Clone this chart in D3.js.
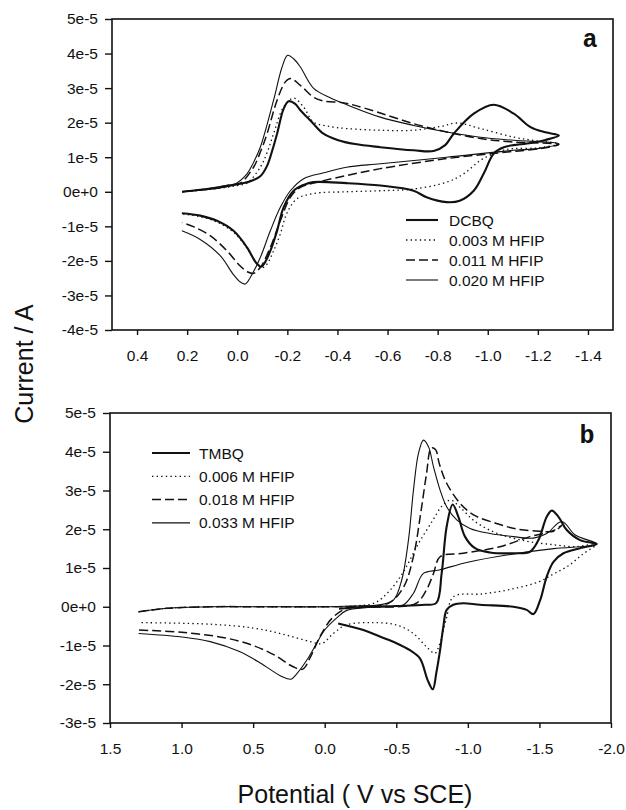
<!DOCTYPE html>
<html>
<head>
<meta charset="utf-8">
<script src="https://cdn.jsdelivr.net/npm/d3@7"></script>
<style>
  body { margin: 0; background: #fff; }
  svg { display: block; }
  text { font-family: "Liberation Sans", Arial, sans-serif; fill: #111; }
</style>
</head>
<body>
<div id="chart"></div>
<script>
// potentials in V, currents in units of 1e-5 A, points follow the scan direction

// panel a
const dcbq = [[0.22,0],[0.10,0.1],[0.015,0.2],[-0.05,0.3],[-0.092,0.45],[-0.119,0.75],[-0.14,1.2],[-0.159,1.68],[-0.185,2.40],[-0.205,2.62],[-0.23,2.55],[-0.252,2.36],[-0.28,2.15],[-0.304,1.97],[-0.344,1.68],[-0.40,1.5],[-0.47,1.38],[-0.571,1.29],[-0.704,1.20],[-0.784,1.18],[-0.83,1.35],[-0.864,1.68],[-0.944,2.26],[-1.024,2.52],[-1.104,2.26],[-1.171,1.87],[-1.23,1.72],[-1.284,1.63],
  [-1.23,1.50],[-1.172,1.41],[-1.064,1.29],[-1.024,1.11],[-0.984,0.53],[-0.944,0.03],[-0.888,-0.26],[-0.836,-0.30],[-0.756,-0.16],[-0.704,0.03],[-0.572,0.18],[-0.436,0.25],[-0.304,0.28],[-0.265,0.2],[-0.225,0.03],[-0.185,-0.45],[-0.159,-1.13],[-0.132,-1.71],[-0.11,-2.05],[-0.095,-2.17],[-0.075,-2.05],[-0.039,-1.61],[0.015,-1.13],[0.081,-0.84],[0.148,-0.69],[0.221,-0.62]];
const hfip003 = [[0.22,0],[0.1,0.08],[0.0,0.18],[-0.039,0.25],[-0.092,0.71],[-0.12,1.15],[-0.145,1.68],[-0.185,2.45],[-0.225,2.71],[-0.265,2.45],[-0.304,2.02],[-0.36,1.9],[-0.437,1.83],[-0.571,1.78],[-0.704,1.78],[-0.812,1.89],[-0.877,1.99],[-0.971,1.83],[-1.104,1.58],[-1.2,1.47],[-1.284,1.39],
  [-1.2,1.27],[-1.104,1.25],[-1.051,1.18],[-0.971,0.91],[-0.904,0.52],[-0.837,0.28],[-0.704,0.08],[-0.571,0.03],[-0.437,0.0],[-0.304,-0.05],[-0.237,-0.21],[-0.197,-0.64],[-0.172,-1.22],[-0.145,-1.71],[-0.119,-2.09],[-0.10,-2.2],[-0.08,-2.1],[-0.045,-1.7],[0.01,-1.2],[0.08,-0.88],[0.148,-0.72],[0.221,-0.64]];
const hfip011 = [[0.22,0],[0.1,0.1],[0.03,0.2],[-0.012,0.25],[-0.065,0.71],[-0.095,1.2],[-0.119,1.68],[-0.159,2.65],[-0.192,3.18],[-0.212,3.28],[-0.252,3.08],[-0.304,2.74],[-0.35,2.62],[-0.42,2.58],[-0.47,2.5],[-0.571,2.28],[-0.704,1.97],[-0.837,1.73],[-0.971,1.54],[-1.104,1.44],[-1.284,1.37],
  [-1.2,1.24],[-1.104,1.17],[-0.836,0.96],[-0.572,0.67],[-0.437,0.47],[-0.304,0.25],[-0.252,0.13],[-0.212,-0.16],[-0.172,-0.84],[-0.132,-1.61],[-0.092,-2.19],[-0.065,-2.36],[-0.045,-2.33],[-0.012,-2.15],[0.041,-1.71],[0.108,-1.27],[0.175,-1.01],[0.221,-0.89]];
const hfip020 = [[0.22,0],[0.1,0.08],[0.015,0.2],[-0.039,0.52],[-0.065,0.85],[-0.092,1.29],[-0.145,2.65],[-0.179,3.61],[-0.201,3.95],[-0.225,3.85],[-0.252,3.61],[-0.304,3.0],[-0.371,2.72],[-0.437,2.52],[-0.571,2.16],[-0.704,1.92],[-0.837,1.73],[-0.971,1.58],[-1.104,1.49],[-1.284,1.39],
  [-1.2,1.25],[-1.104,1.2],[-0.836,1.0],[-0.572,0.81],[-0.436,0.71],[-0.345,0.55],[-0.265,0.38],[-0.212,0.03],[-0.172,-0.45],[-0.132,-1.13],[-0.092,-1.90],[-0.052,-2.48],[-0.032,-2.67],[-0.01,-2.6],[0.015,-2.4],[0.068,-1.85],[0.148,-1.38],[0.221,-1.13]];

// panel b
const tmbq = [[-0.10,-0.05],[-0.3,0.0],[-0.5,0.02],[-0.7,0.05],[-0.78,0.1],[-0.817,0.86],[-0.852,2.07],[-0.894,2.64],[-0.934,2.32],[-0.98,1.81],[-1.05,1.51],[-1.155,1.40],[-1.318,1.38],[-1.434,1.42],[-1.493,1.72],[-1.551,2.32],[-1.586,2.48],[-1.633,2.32],[-1.691,1.98],[-1.784,1.72],[-1.9,1.62],
  [-1.784,1.51],[-1.668,1.38],[-1.598,1.16],[-1.551,0.78],[-1.505,0.17],[-1.458,-0.19],[-1.411,-0.08],[-1.318,0.0],[-1.085,0.05],[-0.968,0.09],[-0.898,0.05],[-0.852,-0.08],[-0.829,-0.51],[-0.806,-1.12],[-0.78,-1.7],[-0.755,-2.13],[-0.72,-1.9],[-0.665,-1.33],[-0.595,-1.12],[-0.501,-0.94],[-0.385,-0.77],[-0.27,-0.60],[-0.094,-0.43]];
const hfip006 = [[1.3,-0.13],[1.1,-0.04],[0.8,0],[0.4,0],[0,0],[-0.2,0.02],[-0.35,0.1],[-0.45,0.4],[-0.55,0.9],[-0.65,1.6],[-0.75,2.2],[-0.82,2.6],[-0.88,2.75],[-0.95,2.55],[-1.05,2.2],[-1.2,1.9],[-1.4,1.7],[-1.6,1.6],[-1.75,1.55],[-1.9,1.62],
  [-1.8,1.35],[-1.7,1.05],[-1.6,0.85],[-1.5,0.65],[-1.3,0.45],[-1.1,0.33],[-0.9,0.26],[-0.85,-0.3],[-0.8,-1.0],[-0.77,-1.2],[-0.71,-1.03],[-0.62,-0.69],[-0.5,-0.47],[-0.34,-0.41],[-0.15,-0.47],[-0.06,-0.69],[0.02,-0.95],[0.1,-0.9],[0.3,-0.7],[0.5,-0.55],[0.8,-0.45],[1.3,-0.41]];
const hfip018 = [[1.3,-0.13],[1.1,-0.04],[0.8,0],[0.4,0],[0,0],[-0.3,0.02],[-0.45,0.1],[-0.55,0.5],[-0.62,1.3],[-0.67,2.4],[-0.71,3.4],[-0.745,4.1],[-0.775,4.05],[-0.8,3.7],[-0.85,3.2],[-0.95,2.65],[-1.05,2.35],[-1.2,2.15],[-1.35,2.0],[-1.5,1.95],[-1.6,1.95],[-1.656,2.1],
  [-1.6,1.97],[-1.434,1.81],[-1.225,1.55],[-0.968,1.38],[-0.806,1.29],[-0.76,0.86],[-0.71,0.43],[-0.64,0.09],[-0.5,0.0],[-0.3,0],[-0.15,-0.05],[-0.05,-0.3],[0.03,-0.75],[0.1,-1.3],[0.153,-1.61],[0.22,-1.55],[0.35,-1.25],[0.5,-1.0],[0.7,-0.8],[1.0,-0.66],[1.3,-0.6]];
const hfip033 = [[1.3,-0.13],[1.1,-0.04],[0.8,0],[0.4,0],[0,0],[-0.2,0.02],[-0.385,0.05],[-0.48,0.17],[-0.538,0.69],[-0.585,1.72],[-0.62,3.01],[-0.655,3.96],[-0.69,4.30],[-0.725,4.13],[-0.76,3.61],[-0.806,3.01],[-0.852,2.58],[-0.922,2.24],[-1.015,2.02],[-1.155,1.89],[-1.318,1.81],[-1.458,1.77],[-1.551,1.89],[-1.656,2.20],[-1.75,1.85],[-1.9,1.62],
  [-1.6,1.5],[-1.3,1.35],[-1.0,1.15],[-0.8,0.95],[-0.69,0.86],[-0.62,0.35],[-0.55,0.05],[-0.45,0],[-0.3,-0.02],[-0.15,-0.1],[-0.08,-0.3],[0.0,-0.6],[0.05,-0.9],[0.12,-1.35],[0.2,-1.75],[0.236,-1.87],[0.3,-1.8],[0.45,-1.45],[0.6,-1.15],[0.8,-0.9],[1.0,-0.78],[1.3,-0.69]];

const namesA = ["DCBQ", "0.003 M HFIP", "0.011 M HFIP", "0.020 M HFIP"];
const namesB = ["TMBQ", "0.006 M HFIP", "0.018 M HFIP", "0.033 M HFIP"];
const ticksXA = [0.4, 0.2, 0.0, -0.2, -0.4, -0.6, -0.8, -1.0, -1.2, -1.4];
const ticksXB = [1.5, 1.0, 0.5, 0.0, -0.5, -1.0, -1.5, -2.0];
const ticksYA = [-4, -3, -2, -1, 0, 1, 2, 3, 4, 5];
const ticksYB = [-3, -2, -1, 0, 1, 2, 3, 4, 5];

const W = 626, H = 810;
const svg = d3.select("#chart").append("svg").attr("width", W).attr("height", H);

// line looks: thick solid, dotted, dashed, thin solid
const looks = [
  {w: 2.1, dash: null},
  {w: 1.3, dash: "1.4,3.2"},
  {w: 1.5, dash: "9,4"},
  {w: 1.1, dash: null}
];

const fmtY = d => d === 0 ? "0e+0" : Math.round(d) + "e-5";
const fmtX = d => (Math.abs(d) < 1e-9 ? 0 : d).toFixed(1);

function panel(o) {
  const x = d3.scaleLinear().domain(o.xDomain).range([o.left, o.right]);
  const y = d3.scaleLinear().domain(o.yDomain).range([o.bottom, o.top]);
  const g = svg.append("g");

  const clipId = "clip-" + o.tag;
  svg.append("clipPath").attr("id", clipId)
    .append("rect").attr("x", o.left).attr("y", o.top)
    .attr("width", o.right - o.left).attr("height", o.bottom - o.top);

  const ya = g.append("g").attr("transform", `translate(${o.left},0)`)
    .call(d3.axisLeft(y).tickValues(o.yTicks).tickFormat(fmtY).tickSize(7).tickPadding(7));
  const xa = g.append("g").attr("transform", `translate(0,${o.bottom})`)
    .call(d3.axisBottom(x).tickValues(o.xTicks).tickFormat(fmtX).tickSize(5).tickPadding(15));
  [ya, xa].forEach(a => {
    a.select(".domain").remove();
    a.selectAll("line").attr("stroke", "#111").attr("stroke-width", 1.4);
    a.selectAll("text").style("font-size", "15.5px").attr("fill", "#111");
  });

  g.append("rect").attr("x", o.left).attr("y", o.top)
    .attr("width", o.right - o.left).attr("height", o.bottom - o.top)
    .attr("fill", "none").attr("stroke", "#111").attr("stroke-width", 1.6);

  const line = d3.line().x(d => x(d[0])).y(d => y(d[1]))
    .curve(d3.curveCatmullRom.alpha(0.5));

  g.append("g").attr("clip-path", `url(#${clipId})`)
    .selectAll("path").data(o.series).join("path")
    .attr("d", d => line(d))
    .attr("fill", "none").attr("stroke", "#111")
    .attr("stroke-width", (d, i) => looks[i].w)
    .attr("stroke-dasharray", (d, i) => looks[i].dash)
    .attr("stroke-linejoin", "round");

  const leg = g.append("g").selectAll("g").data(o.names).join("g")
    .attr("transform", (d, i) => `translate(0,${o.legY + i * o.legStep})`);
  leg.append("line").attr("x1", o.legX1).attr("x2", o.legX2)
    .attr("stroke", "#111")
    .attr("stroke-width", (d, i) => looks[i].w)
    .attr("stroke-dasharray", (d, i) => looks[i].dash);
  leg.append("text").attr("x", o.legText).attr("dy", "0.36em")
    .style("font-size", "15.5px").text(d => d);

  g.append("text").attr("x", o.labelX).attr("y", o.labelY)
    .attr("text-anchor", "middle")
    .style("font-family", "'Liberation Mono', 'Courier New', monospace")
    .style("font-weight", "bold").style("font-size", "25px")
    .text(o.tag);
}

panel({
  tag: "a", xDomain: [0.5, -1.5], yDomain: [-4, 5],
  left: 112, right: 613, top: 19, bottom: 330,
  xTicks: ticksXA, yTicks: ticksYA,
  series: [dcbq, hfip003, hfip011, hfip020], names: namesA,
  legX1: 406, legX2: 438, legText: 449, legY: 220, legStep: 20,
  labelX: 590, labelY: 47
});

panel({
  tag: "b", xDomain: [1.5, -2.0], yDomain: [-3, 5],
  left: 110, right: 611, top: 413, bottom: 723,
  xTicks: ticksXB, yTicks: ticksYB,
  series: [tmbq, hfip006, hfip018, hfip033], names: namesB,
  legX1: 152, legX2: 190, legText: 199, legY: 453, legStep: 23.3,
  labelX: 587, labelY: 443
});

svg.append("text")
  .attr("transform", "translate(33,364) rotate(-90)")
  .attr("text-anchor", "middle")
  .style("font-size", "25px")
  .text("Current / A");

svg.append("text")
  .attr("x", 355).attr("y", 803)
  .attr("text-anchor", "middle")
  .style("font-size", "25px")
  .text("Potential ( V vs SCE)");
</script>
</body>
</html>
